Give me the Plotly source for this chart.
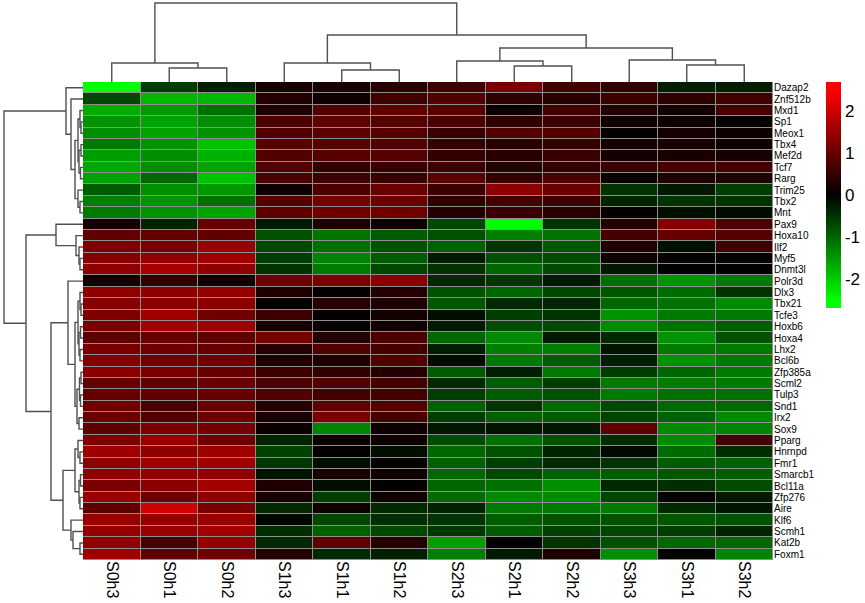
import plotly.graph_objects as go

samples = ["S0h3", "S0h1", "S0h2", "S1h3", "S1h1", "S1h2",
           "S2h3", "S2h1", "S2h2", "S3h3", "S3h1", "S3h2"]

genes = ["Dazap2", "Znf512b", "Mxd1", "Sp1", "Meox1", "Tbx4", "Mef2d", "Tcf7", "Rarg",
         "Trim25", "Tbx2", "Mnt", "Pax9", "Hoxa10", "Ilf2", "Myf5", "Dnmt3l", "Polr3d",
         "Dlx3", "Tbx21", "Tcfe3", "Hoxb6", "Hoxa4", "Lhx2", "Bcl6b", "Zfp385a", "Scml2",
         "Tulp3", "Snd1", "Irx2", "Sox9", "Pparg", "Hnrnpd", "Fmr1", "Smarcb1", "Bcl11a",
         "Zfp276", "Aire", "Klf6", "Scmh1", "Kat2b", "Foxm1"]

S0h3 = [-2.5, -0.7, -1.7, -1.45, -1.4, -1.2, -1.55, -1.65, -1.6, -0.9, -1.25, -1.2, 0.2, 0.95,
        1.25, 1.3, 1.4, 0.2, 1.4, 1.3, 1.25, 1.2, 0.9, 1.2, 1.3, 1.35, 1.0, 1.0, 1.1, 1.05,
        0.9, 1.25, 1.55, 1.4, 1.4, 1.2, 1.5, 0.9, 1.5, 1.45, 1.4, 1.55]
S0h1 = [-0.6, -1.8, -1.5, -1.6, -1.6, -1.45, -1.4, -1.4, -1.0, -1.4, -1.45, -1.45, -0.35, 1.0,
        1.2, 1.4, 1.65, 0.5, 1.4, 1.35, 1.55, 1.6, 1.0, 1.1, 1.1, 1.2, 0.95, 0.95, 0.7, 0.8,
        1.2, 1.5, 1.4, 1.55, 1.45, 1.35, 1.1, 2.05, 1.45, 1.5, 0.7, 0.95]
S0h2 = [-0.3, -1.8, -1.1, -1.4, -1.45, -1.9, -1.75, -1.6, -1.9, -1.5, -1.1, -1.6, 1.0, 0.95,
        1.5, 1.55, 1.4, 0.2, 1.45, 1.35, 1.1, 1.55, 0.95, 1.0, 1.1, 1.0, 1.0, 1.0, 1.0, 1.05,
        1.15, 1.1, 1.55, 1.55, 1.4, 1.6, 1.4, 1.2, 1.5, 1.6, 1.45, 1.1]
S1h3 = [0.25, 0.35, 0.3, 0.75, 0.8, 0.85, 0.8, 0.8, 0.75, 0.15, 0.85, 0.9, -0.25, -0.8,
        -0.7, -0.6, -0.5, 1.1, 0.3, 0.05, 0.6, 0.2, 1.2, 0.4, 0.3, 0.6, 0.75, 0.8, 0.4, 0.25,
        0.1, -0.35, -0.65, -0.55, -0.2, 0.3, 0.2, -0.4, -0.05, -0.45, -0.4, 0.35]
S1h1 = [0.25, 0.15, 0.8, 0.95, 0.9, 0.85, 0.85, 0.5, 0.6, 0.75, 1.15, 1.1, 0.3, -1.15,
        -1.1, -1.3, -1.2, 1.2, 0.05, 0.4, 0.05, 0.05, 0.35, 0.8, 0.3, 0.5, 0.8, 0.65, 0.9, 1.2,
        -1.3, 0.1, 0.05, -0.15, 0.25, -0.15, -0.6, 0.15, -0.7, -0.95, 0.9, -0.4]
S1h2 = [0.4, 0.65, 0.95, 0.85, 0.85, 0.8, 0.85, 0.55, 0.55, 1.05, 1.05, 1.1, 0.15, -0.9,
        -0.8, -0.9, -0.7, 1.35, 0.35, 0.3, 0.2, 0.15, 0.75, 0.7, 0.8, 0.35, 0.65, 0.65, 0.8, 0.7,
        0.15, 0.15, -0.15, 0.05, 0.15, 0.05, 0.15, -0.4, -0.45, -0.7, 0.35, -0.3]
S2h3 = [0.6, 0.8, 0.85, 0.75, 0.55, 0.5, 0.5, 0.6, 0.9, 0.6, 0.45, 0.35, -0.7, -0.8,
        -0.95, -0.25, -0.5, -0.4, -0.8, -0.85, -0.15, -0.25, -1.0, -0.3, -0.1, -0.9, -0.4, -0.6,
        -0.95, -0.6, -0.25, -0.75, -1.0, -0.95, -1.0, -1.0, -1.05, -0.35, -0.5, -0.55, -1.55, -1.25]
S2h1 = [1.2, 0.45, 0.1, 0.45, 0.8, 0.4, 0.4, 0.35, 0.5, 1.4, 0.65, 0.55, -2.5, -1.25,
        -0.5, -0.8, -1.0, -0.55, -1.0, -0.4, -0.6, -0.75, -1.35, -1.25, -1.2, -0.3, -0.9, -0.9,
        -0.5, -0.95, -0.2, -1.1, -0.8, -0.6, -0.7, -1.1, -1.35, -1.2, -0.9, -0.9, 0.0, -0.25]
S2h2 = [0.65, 0.4, 0.65, 0.6, 0.8, 0.5, 0.55, 0.5, 0.75, 1.05, 0.6, 0.4, -0.5, -1.15,
        -0.85, -0.75, -0.75, -0.25, -0.7, -0.35, -0.5, -0.7, -0.25, -1.25, -0.9, -1.2, -0.6, -0.8,
        -1.0, -0.9, -0.25, -0.8, -0.35, -0.4, -0.95, -1.4, -1.35, -1.2, -0.8, -0.65, -0.5, 0.3]
S3h3 = [0.5, 0.6, 0.35, 0.15, 0.05, 0.2, 0.2, 0.55, 0.1, -0.5, -0.35, 0.05, 0.35, 0.7,
        0.3, 0.15, -0.25, -1.1, -0.85, -1.0, -1.45, -1.35, -0.4, -0.2, -0.3, -0.6, -1.2, -1.2,
        -0.7, -0.65, 0.95, -0.45, -0.1, -0.5, -0.9, -0.4, -0.7, -1.2, -0.8, -0.7, -0.8, -1.4]
S3h1 = [-0.3, 0.45, 0.2, 0.15, 0.2, 0.25, 0.25, 0.7, 0.3, -0.25, -0.5, -0.15, 1.3, 1.0,
        -0.15, 0.05, 0.0, -1.45, -1.05, -1.1, -1.2, -1.1, -1.45, -1.2, -1.45, -1.0, -1.2, -1.1,
        -1.0, -0.95, -1.35, -1.35, -1.05, -0.9, -0.85, -0.45, 0.05, -0.4, -0.85, -0.6, -1.0, 0.05]
S3h2 = [-0.3, 0.65, 0.65, 0.05, 0.15, 0.15, 0.25, 0.65, 0.3, -0.6, -0.5, -0.1, 0.75, 0.85,
        0.6, 0.05, 0.0, -1.2, -0.5, -1.35, -1.2, -0.9, -0.8, -1.2, -1.2, -1.2, -1.2, -1.1,
        -1.0, -1.35, -1.3, 0.65, -0.45, -0.95, -0.9, -0.75, -0.25, -0.2, -0.8, -0.35, -1.0, -1.3]

columns = [S0h3, S0h1, S0h2, S1h3, S1h1, S1h2, S2h3, S2h1, S2h2, S3h3, S3h1, S3h2]
colorbar_ticks = [-2, -1, 0, 1, 2]
colorbar_labels = ["-2", "-1", "0", "1", "2"]

# Dendrograms: (merge height, left child, right child); leaves are column / row indices
col_tree = (79, (19, 0, (14, 1, 2)),
            (47, (19, 3, (12, 4, 5)),
             (34, (21, 6, (16, 7, 8)), (22, 9, (17, 10, 11)))))

row_tree = (79,
            (17, 0, (12, 1, (8, (5, (3, 2, (2, 3, 4)), (4, (2, 5, 6), (2.5, 7, 8))),
                             (5, 9, (3, 10, 11))))),
            (57,
             (27, 12, (7, 13, (4, 14, (3, 15, 16)))),
             (32,
              (15, 17, (8, (5, (3, 18, (2, 19, 20)), (4, (2.5, 21, 22), (3, 23, 24))),
                        (6, (3.5, (2, 25, 26), (2.5, 27, 28)), (4, 29, 30)))),
              (20, (8, (5, 31, (3, 32, 33)), (4, (2.5, 34, 35), (3, 36, 37))),
               (12, 38, (10, 39, (3, 40, 41)))))))

n_rows = len(genes)
n_cols = len(samples)
z = [[columns[j][i] for j in range(n_cols)] for i in range(n_rows)]


def tree_segments(node):
    pos_list, h_list = [], []

    def walk(nd):
        if isinstance(nd, int):
            return float(nd), 0.0
        h, a, b = nd
        pa, ha = walk(a)
        pb, hb = walk(b)
        pos_list.extend([pa, pa, pb, pb, None])
        h_list.extend([ha, h, h, hb, None])
        return (pa + pb) / 2.0, h

    walk(node)
    return pos_list, h_list


W, H = 865, 603
hm_left, hm_right, hm_top, hm_bottom = 83, 773, 82, 560
xdom = [hm_left / W, hm_right / W]
ydom = [(H - hm_bottom) / H, (H - hm_top) / H]
fnt = "Liberation Sans, Arial"

fig = go.Figure()

# grid background behind cells
fig.add_shape(type="rect", xref="x", yref="y", x0=-0.5, x1=n_cols - 0.5,
              y0=-0.5, y1=n_rows - 0.5, fillcolor="#8e8e8e",
              line=dict(color="#8e8e8e", width=1), layer="below")

fig.add_trace(go.Heatmap(
    z=z, x=list(range(n_cols)), y=list(range(n_rows)),
    zmin=-2.7, zmax=2.7,
    colorscale=[[0.0, "#00ff00"], [0.037, "#00ff00"], [0.5, "#000000"],
                [0.963, "#ff0000"], [1.0, "#ff0000"]],
    xgap=1, ygap=1,
    colorbar=dict(x=826 / W, xanchor="left", y=(H - 82) / H, yanchor="top",
                  len=226 / H, lenmode="fraction", thickness=15, thicknessmode="pixels",
                  outlinewidth=0, tickvals=colorbar_ticks, ticktext=colorbar_labels,
                  ticks="", tickfont=dict(size=17, color="black", family=fnt),
                  ypad=0, xpad=0),
    xaxis="x", yaxis="y", hoverinfo="skip"))

cx, cy = tree_segments(col_tree)
fig.add_trace(go.Scatter(x=cx, y=cy, mode="lines", xaxis="x2", yaxis="y2",
                         line=dict(color="#505050", width=1.4), hoverinfo="skip",
                         showlegend=False))

ry, rx = tree_segments(row_tree)
fig.add_trace(go.Scatter(x=rx, y=ry, mode="lines", xaxis="x3", yaxis="y3",
                         line=dict(color="#505050", width=1.4), hoverinfo="skip",
                         showlegend=False))

fig.update_layout(
    width=W, height=H, margin=dict(l=0, r=0, t=0, b=0),
    paper_bgcolor="white", plot_bgcolor="white", showlegend=False,
    xaxis=dict(domain=xdom, range=[-0.5, n_cols - 0.5], tickvals=list(range(n_cols)),
               ticktext=samples, tickangle=90, showgrid=False, zeroline=False, ticks="",
               tickfont=dict(size=16, color="black", family=fnt), anchor="y",
               showline=False),
    yaxis=dict(domain=ydom, range=[n_rows - 0.5, -0.5], tickvals=list(range(n_rows)),
               ticktext=genes, side="right", showgrid=False, zeroline=False, ticks="",
               tickfont=dict(size=10, color="black", family=fnt), anchor="x",
               showline=False),
    xaxis2=dict(domain=xdom, range=[-0.5, n_cols - 0.5], visible=False, anchor="y2"),
    yaxis2=dict(domain=[(H - hm_top) / H, 1.0], range=[0, hm_top], visible=False,
                anchor="x2"),
    xaxis3=dict(domain=[0, hm_left / W], range=[hm_left, 0], visible=False, anchor="y3"),
    yaxis3=dict(domain=ydom, range=[n_rows - 0.5, -0.5], visible=False, anchor="x3"),
)

fig.write_html("out.html")
